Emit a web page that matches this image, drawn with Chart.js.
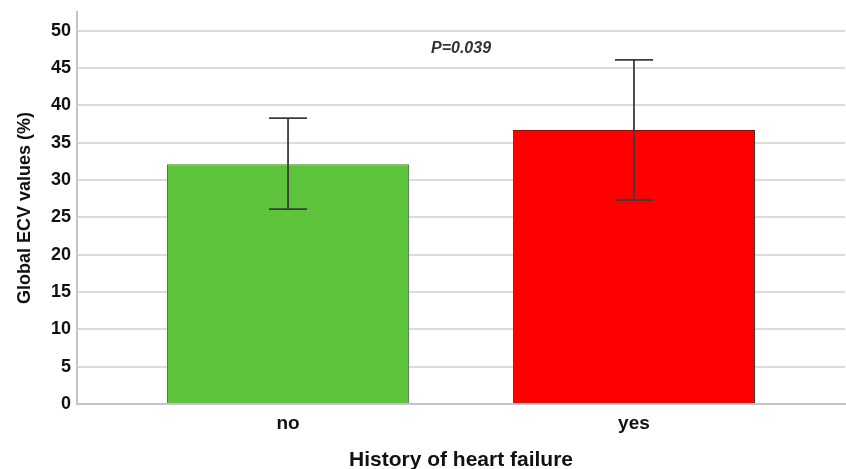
<!DOCTYPE html>
<html>
<head>
<meta charset="utf-8">
<script src="https://cdn.jsdelivr.net/npm/chart.js@4.4.0/dist/chart.umd.min.js"></script>
<style>
  html, body { margin: 0; padding: 0; background: #fff; }
  #wrap { width: 846px; height: 469px; }
</style>
</head>
<body>
<div id="wrap"><canvas id="ecv_chart"></canvas></div>
<script>
const categories = ['no', 'yes'];
const means = [32.1, 36.7];
const errLow = [26.1, 27.3];
const errHigh = [38.3, 46.1];
const barColors = ['#5cc33a', '#ff0000'];
const barBorders = ['#3c7a2a', '#6b1a1a'];
const pLabel = 'P=0.039';

const fontName = '"Liberation Sans", Arial, sans-serif';

// whiskers + p value, placed through the chart scales
const errorBars = {
  id: 'errorBars',
  afterDatasetsDraw(chart) {
    const ctx = chart.ctx;
    const xs = chart.scales.x;
    const ys = chart.scales.y;
    ctx.save();
    ctx.strokeStyle = '#3c3c3c';
    ctx.lineWidth = 1.8;
    for (let i = 0; i < categories.length; i++) {
      const x = xs.getPixelForValue(i);
      const top = ys.getPixelForValue(errHigh[i]);
      const bot = ys.getPixelForValue(errLow[i]);
      ctx.beginPath();
      ctx.moveTo(x, top); ctx.lineTo(x, bot);
      ctx.moveTo(x - 19, top); ctx.lineTo(x + 19, top);
      ctx.moveTo(x - 19, bot); ctx.lineTo(x + 19, bot);
      ctx.stroke();
    }
    ctx.fillStyle = '#333';
    ctx.font = 'italic bold 16px ' + fontName;
    ctx.textAlign = 'center';
    ctx.textBaseline = 'middle';
    ctx.fillText(pLabel, xs.getPixelForValue(0.5), ys.getPixelForValue(47.6));
    ctx.restore();
  }
};

new Chart(document.getElementById('ecv_chart'), {
  type: 'bar',
  data: {
    datasets: [{
      data: categories.map((c, i) => ({ x: i, y: means[i] })),
      backgroundColor: barColors,
      borderColor: barBorders,
      borderWidth: 1,
      barPercentage: 0.7,
      categoryPercentage: 1
    }]
  },
  options: {
    responsive: true,
    maintainAspectRatio: false,
    animation: false,
    layout: { padding: { top: 12, right: 1, left: 0, bottom: 0 } },
    plugins: { legend: { display: false }, tooltip: { enabled: false } },
    scales: {
      x: {
        type: 'linear',
        offset: false,
        min: -0.61,
        max: 1.61,
        afterFit(s) { s.height = 65; },
        grid: { display: false, drawTicks: false, offset: false },
        border: { color: '#c4c4c4', width: 2 },
        ticks: {
          stepSize: 1,
          includeBounds: false,
          padding: 8,
          color: '#111',
          font: { family: fontName, size: 19, weight: 'bold' },
          callback: v => Number.isInteger(v) ? categories[v] : ''
        },
        title: {
          display: true,
          text: 'History of heart failure',
          color: '#111',
          padding: { top: 0, bottom: 0 },
          font: { family: fontName, size: 21, weight: 'bold', lineHeight: 0.8 }
        }
      },
      y: {
        min: 0,
        max: 52.5,
        afterFit(s) { s.width = 77; s.paddingTop = 0; },
        grid: { color: '#dcdcdc', lineWidth: 2, drawTicks: false },
        border: { color: '#c4c4c4', width: 2 },
        ticks: {
          stepSize: 5,
          includeBounds: false,
          padding: 6,
          color: '#111',
          font: { family: fontName, size: 18, weight: 'bold' }
        },
        title: {
          display: true,
          text: 'Global ECV values (%)',
          color: '#111',
          padding: { top: 14, bottom: 0 },
          font: { family: fontName, size: 18, weight: 'bold' }
        }
      }
    }
  },
  plugins: [errorBars]
});
</script>
</body>
</html>
